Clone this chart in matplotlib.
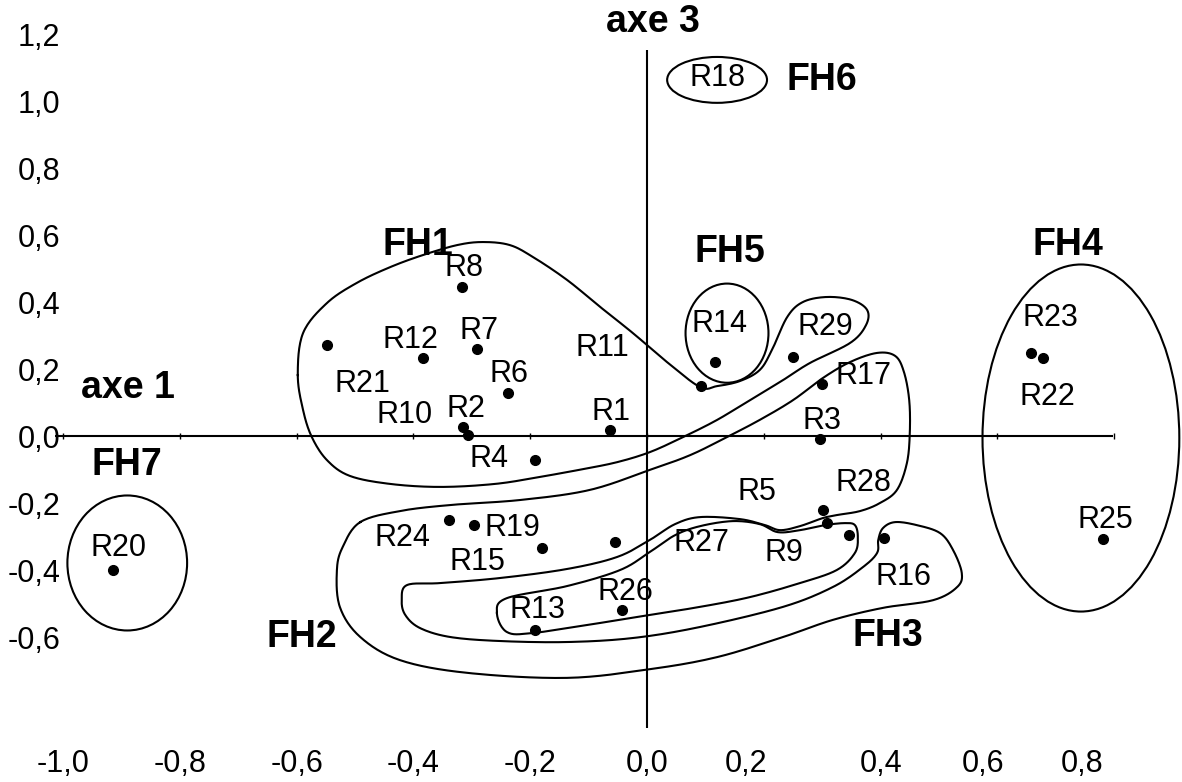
"""
Correspondence analysis, plane axe 1 x axe 3: relevés R1..R29 and floristic groups FH1..FH7.
"""
import numpy as np
import matplotlib
matplotlib.use("Agg")
import matplotlib.pyplot as plt
from matplotlib.patches import Ellipse

plt.rcParams["font.family"] = ["Liberation Sans", "DejaVu Sans"]

# relevé coordinates on axe 1 (x) and axe 3 (y)
RELEVES = ["R1", "R2", "R3", "R4", "R5", "R6", "R7", "R8", "R9", "R10",
           "R11", "R12", "R13", "R14", "R15", "R16", "R17", "R18", "R19", "R20",
           "R21", "R22", "R23", "R24", "R25", "R26", "R27", "R28", "R29"]
AXE1 = [-0.063, -0.315, 0.296, -0.192, 0.301, -0.238, -0.291, -0.317, 0.346, -0.307,
        0.092, -0.384, -0.192, 0.116, -0.180, 0.406, 0.300, 0.120, -0.296, -0.914,
        -0.548, 0.678, 0.658, -0.339, 0.781, -0.043, -0.055, 0.308, 0.250]
AXE3 = [0.018, 0.027, -0.009, -0.072, -0.221, 0.128, 0.260, 0.445, -0.296, 0.003,
        0.149, 0.233, -0.579, 0.221, -0.334, -0.304, 0.155, 1.063, -0.266, -0.400,
        0.272, 0.233, 0.248, -0.251, -0.307, -0.519, -0.316, -0.260, 0.236]
NO_DOT = ["R18"]   # hidden behind its label in the original

# tick labels (decimal comma); x labels sit slightly off the ticks in the scan
YTICKS = [1.2, 1.0, 0.8, 0.6, 0.4, 0.2, 0.0, -0.2, -0.4, -0.6]
YTICK_LABELS = ["1,2", "1,0", "0,8", "0,6", "0,4", "0,2", "0,0", "-0,2", "-0,4", "-0,6"]
XTICKS = [-1.0, -0.8, -0.6, -0.4, -0.2, 0.0, 0.17, 0.40, 0.575, 0.745]
XTICK_LABELS = ["-1,0", "-0,8", "-0,6", "-0,4", "-0,2", "0,0", "0,2", "0,4", "0,6", "0,8"]
AXIS_TICKS = [-1.0, -0.8, -0.6, -0.4, -0.2, 0.0, 0.2, 0.4, 0.6, 0.8]

# label offsets from the dot, in pixels (dx right, dy down)
LABEL_OFFSET = {
    "R1": (1, -18), "R2": (3, -18), "R3": (2, -18), "R4": (-46, -1), "R5": (-66, -18),
    "R6": (1, -19), "R7": (2, -18), "R8": (2, -19), "R9": (-65, 18), "R10": (-63, -20),
    "R11": (-98, -38), "R12": (-12, -18), "R13": (3, -20), "R14": (5, -38), "R15": (-64, 14),
    "R16": (19, 39), "R17": (41, -8), "R18": (0, -2), "R19": (38, 3), "R20": (5, -22),
    "R21": (35, 39), "R22": (4, 39), "R23": (19, -35), "R24": (-47, 18), "R25": (2, -19),
    "R26": (4, -18), "R27": (87, 1), "R28": (37, -40), "R29": (32, -30),
}

# group outlines: ellipses (cx, cy, w, h) and hand-drawn closed outlines
ELLIPSES = {
    "FH4": (0.743, -0.006, 0.337, 1.036),
    "FH5": (0.137, 0.307, 0.142, 0.296),
    "FH6": (0.120, 1.063, 0.171, 0.137),
    "FH7": (-0.890, -0.379, 0.205, 0.403),
}
FH1_OUTLINE = [
    (-0.598, 0.182), (-0.589, 0.307), (-0.548, 0.397), (-0.497, 0.457), (-0.440, 0.504),
    (-0.384, 0.540), (-0.325, 0.570), (-0.281, 0.579), (-0.235, 0.570), (-0.195, 0.534),
    (-0.137, 0.466), (-0.080, 0.385), (-0.024, 0.307), (0.034, 0.221), (0.091, 0.146),
    (0.120, 0.149), (0.159, 0.164), (0.193, 0.197), (0.214, 0.257), (0.240, 0.355),
    (0.267, 0.400), (0.308, 0.415), (0.351, 0.406), (0.377, 0.376), (0.375, 0.331),
    (0.348, 0.278), (0.279, 0.218), (0.233, 0.167), (0.176, 0.107), (0.120, 0.048),
    (0.062, -0.003), (0.005, -0.048), (-0.051, -0.078), (-0.110, -0.099), (-0.183, -0.122),
    (-0.260, -0.143), (-0.354, -0.152), (-0.440, -0.143), (-0.509, -0.119), (-0.548, -0.072),
    (-0.574, -0.003), (-0.589, 0.078),
]
FH2_FH3_OUTLINE = [
    (-0.491, -0.257), (-0.423, -0.224), (-0.337, -0.206), (-0.217, -0.191), (-0.098, -0.161),
    (0.005, -0.101), (0.074, -0.057), (0.137, -0.003), (0.193, 0.048), (0.250, 0.107),
    (0.301, 0.173), (0.348, 0.221), (0.394, 0.248), (0.425, 0.239), (0.440, 0.191),
    (0.449, 0.107), (0.450, 0.009), (0.445, -0.081), (0.428, -0.161), (0.399, -0.200),
    (0.365, -0.224), (0.325, -0.236), (0.301, -0.245), (0.262, -0.269), (0.228, -0.281),
    (0.202, -0.266), (0.159, -0.248), (0.091, -0.242), (0.048, -0.263), (0.005, -0.310),
    (-0.051, -0.361), (-0.137, -0.397), (-0.252, -0.424), (-0.354, -0.439), (-0.411, -0.445),
    (-0.420, -0.490), (-0.414, -0.534), (-0.389, -0.573), (-0.337, -0.600), (-0.252, -0.612),
    (-0.137, -0.615), (-0.024, -0.603), (0.091, -0.570), (0.233, -0.510), (0.318, -0.451),
    (0.370, -0.391), (0.394, -0.349), (0.396, -0.310), (0.404, -0.275), (0.425, -0.257),
    (0.462, -0.266), (0.502, -0.290), (0.524, -0.340), (0.539, -0.409), (0.531, -0.451),
    (0.490, -0.490), (0.404, -0.513), (0.318, -0.549), (0.233, -0.600), (0.120, -0.660),
    (0.005, -0.696), (-0.137, -0.722), (-0.308, -0.707), (-0.423, -0.669), (-0.491, -0.600),
    (-0.526, -0.510), (-0.531, -0.400), (-0.521, -0.331),
]
INNER_OUTLINE = [
    (-0.257, -0.528), (-0.240, -0.484), (-0.137, -0.448), (-0.046, -0.400), (0.005, -0.346),
    (0.048, -0.296), (0.091, -0.269), (0.147, -0.254), (0.193, -0.263), (0.224, -0.287),
    (0.262, -0.281), (0.305, -0.266), (0.339, -0.260), (0.356, -0.266), (0.361, -0.301),
    (0.356, -0.349), (0.325, -0.400), (0.262, -0.439), (0.176, -0.481), (0.091, -0.510),
    (0.005, -0.534), (-0.080, -0.558), (-0.195, -0.588), (-0.240, -0.585),
]

GROUP_LABELS = {
    "FH1": (-0.392, 0.570), "FH2": (-0.591, -0.600), "FH3": (0.413, -0.597),
    "FH4": (0.721, 0.570), "FH5": (0.142, 0.549), "FH6": (0.300, 1.063),
    "FH7": (-0.890, -0.087), "axe 1": (-0.889, 0.143), "axe 3": (0.010, 1.236),
}


def smooth_closed(pts, n=16):
    # closed Catmull-Rom spline through the outline vertices
    p = np.asarray(pts, dtype=float)
    m = len(p)
    t = np.linspace(0, 1, n, endpoint=False)[:, None]
    segs = []
    for i in range(m):
        p0, p1, p2, p3 = p[i - 1], p[i], p[(i + 1) % m], p[(i + 2) % m]
        segs.append(0.5 * (2 * p1 + (p2 - p0) * t
                           + (2 * p0 - 5 * p1 + 4 * p2 - p3) * t ** 2
                           + (-p0 + 3 * p1 - 3 * p2 + p3) * t ** 3))
    out = np.vstack(segs)
    return np.vstack([out, out[:1]])


dpi = 100
fig = plt.figure(figsize=(11.82, 7.82), dpi=dpi)
fig.patch.set_facecolor("white")
ax = fig.add_axes([0, 0, 1, 1])
ax.set_xlim(-1.1079, 0.9161)
ax.set_ylim(-1.0328, 1.3015)
for s in ax.spines.values():
    s.set_visible(False)

# tick labels drawn inside the full-figure axes
ax.set_yticks(YTICKS, YTICK_LABELS)
ax.set_xticks(XTICKS, XTICK_LABELS)
ax.tick_params(axis="y", length=0, pad=-60 * 72 / dpi, labelsize=22)
ax.tick_params(axis="x", length=0, pad=-18 * 72 / dpi, labelsize=22)
for lab in ax.get_xticklabels():
    lab.set_va("center")

# axes lines
lw = 1.5
ax.hlines(0, -1.014, 0.798, color="black", lw=lw)
ax.vlines(0, -0.872, 1.152, color="black", lw=lw)
ax.plot(AXIS_TICKS, [0] * len(AXIS_TICKS), ls="none", marker="|", ms=5, mew=1, color="black")

# group outlines
for cx, cy, w, h in ELLIPSES.values():
    ax.add_patch(Ellipse((cx, cy), w, h, fill=False, ec="black", lw=lw))
for outline in (FH1_OUTLINE, FH2_FH3_OUTLINE, INNER_OUTLINE):
    c = smooth_closed(outline)
    ax.plot(c[:, 0], c[:, 1], color="black", lw=lw)

# relevés
xs = [x for r, x in zip(RELEVES, AXE1) if r not in NO_DOT]
ys = [y for r, y in zip(RELEVES, AXE3) if r not in NO_DOT]
ax.plot(xs, ys, ls="none", marker="o", ms=7, color="black")
for r, x, y in zip(RELEVES, AXE1, AXE3):
    dx, dy = LABEL_OFFSET[r]
    ax.annotate(r, (x, y), xytext=(dx * 72 / dpi, -dy * 72 / dpi), textcoords="offset points",
                ha="center", va="center", fontsize=22, color="black")

for name, (x, y) in GROUP_LABELS.items():
    ax.text(x, y, name, ha="center", va="center", fontsize=27, fontweight="bold", color="black")

fig.savefig("out.png", dpi=dpi, facecolor="white")
